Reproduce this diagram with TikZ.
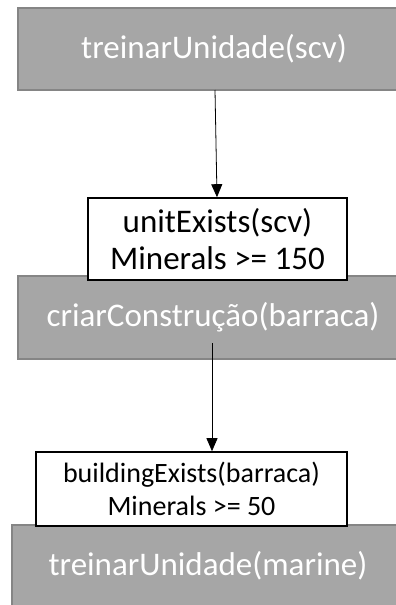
\documentclass[tikz,border=0pt]{standalone}
\usepackage{fontspec}
\setmainfont{Carlito}
\usetikzlibrary{arrows.meta}
\definecolor{boxgrey}{HTML}{A6A6A6}
\definecolor{edgegrey}{HTML}{858585}
\begin{document}
\begin{tikzpicture}[x=1pt,y=-1pt,
  action/.style={draw=edgegrey,line width=2.5pt,fill=boxgrey,text=white,inner sep=0pt,
    font=\fontsize{33}{36.6}\selectfont},
  cond/.style={draw=black,line width=1.6pt,fill=white,inner sep=0pt,align=center},
  arr/.style={-{Triangle[length=13pt,width=11pt]},line width=0.8pt}]
\useasboundingbox (0,0) rectangle (396,605);
% grey action boxes
\node[action,minimum width=392pt,minimum height=82pt] (t1) at (214,49) {treinarUnidade(scv)};
\node[action,minimum width=390pt,minimum height=83pt] (c2) at (213,317.5) {criarConstrução(barraca)};
\node[action,minimum width=392pt,minimum height=82pt] (t3) at (208,566) {treinarUnidade(marine)};
% white condition boxes
\node[cond,minimum width=259pt,minimum height=82pt,font=\fontsize{33}{36.6}\selectfont] (c1) at (217.5,239) {unitExists(scv)\\Minerals >= 150};
\node[cond,minimum width=311pt,minimum height=74pt,font=\fontsize{28}{33.3}\selectfont] (b3) at (191.5,489) {buildingExists(barraca)\\Minerals >= 50};
% connectors
\coordinate (a1) at (215,90);
\coordinate (a2) at (212,343);
\draw[arr] (a1) -- ([xshift=-0.5pt]c1.north);
\draw[arr] (a2) -- (a2 |- b3.north);
\end{tikzpicture}
\end{document}
